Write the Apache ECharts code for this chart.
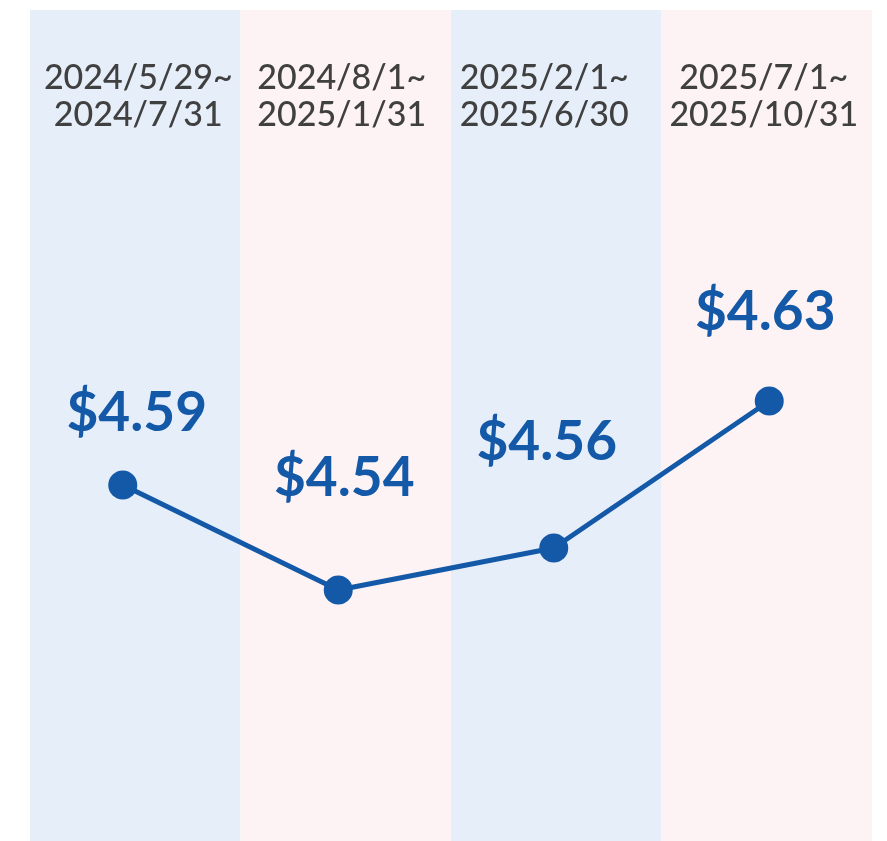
<!DOCTYPE html>
<html>
<head>
<meta charset="utf-8">
<script src="https://cdn.jsdelivr.net/npm/echarts@6/dist/echarts.min.js"></script>
<style>
  html, body { margin: 0; padding: 0; background: #fff; }
  #chart { width: 887px; height: 841px; }
</style>
</head>
<body>
<div id="chart"></div>
<script>
// periods shown at the top of each band
const periods = ['2024/5/29~\n2024/7/31', '2024/8/1~\n2025/1/31', '2025/2/1~\n2025/6/30', '2025/7/1~\n2025/10/31']
// average price per period
const prices = [4.59, 4.54, 4.56, 4.63]

// layout only: label nudges
const labelOffsets = [[14, -72], [6, -112], [-7, -106], [-4, -89]]
const periodShift = [3, -4, -12, -3]

const BLUE = '#1459a8'
const chart = echarts.init(document.getElementById('chart'))

const periodRich = {}
periodShift.forEach((s, i) => {
  periodRich['p' + i] = {
    color: '#404040',
    fontFamily: 'Lato',
    fontWeight: 500,
    fontSize: 34,
    lineHeight: 37,
    padding: s > 0 ? [0, 0, 0, 2 * s] : [0, -2 * s, 0, 0]
  }
})

const option = {
  animation: false,
  textStyle: { fontFamily: 'Lato' },
  grid: [
    { left: 30, right: 15, top: 10, bottom: 0 },
    { left: 15, right: 10, top: 149, bottom: 62 }
  ],
  xAxis: [
    {
      gridIndex: 0,
      type: 'category',
      position: 'top',
      data: periods,
      boundaryGap: true,
      axisLine: { show: false },
      axisTick: { show: false },
      splitLine: { show: false },
      splitArea: { show: true, areaStyle: { color: ['#e6eef9', '#fdf3f4'] } },
      axisLabel: {
        inside: true,
        margin: 50,
        interval: 0,
        formatter: (val, i) => val.split('\n').map(t => '{p' + i + '|' + t + '}').join('\n'),
        rich: periodRich
      }
    },
    {
      gridIndex: 1,
      type: 'category',
      data: periods,
      boundaryGap: true,
      show: false
    }
  ],
  yAxis: [
    { gridIndex: 0, type: 'value', show: false, splitLine: { show: false } },
    { gridIndex: 1, type: 'value', min: 4.45, max: 4.75, show: false, splitLine: { show: false } }
  ],
  series: [
    {
      type: 'line',
      xAxisIndex: 1,
      yAxisIndex: 1,
      data: prices.map((v, i) => ({
        value: v,
        label: { offset: labelOffsets[i] }
      })),
      symbol: 'circle',
      symbolSize: 29,
      lineStyle: { color: BLUE, width: 5 },
      itemStyle: { color: BLUE },
      label: {
        show: true,
        position: 'inside',
        color: BLUE,
        fontFamily: 'Lato',
        fontWeight: 'bold',
        fontSize: 55,
        formatter: p => '$' + p.value.toFixed(2)
      }
    }
  ]
}
chart.setOption(option)
</script>
</body>
</html>
